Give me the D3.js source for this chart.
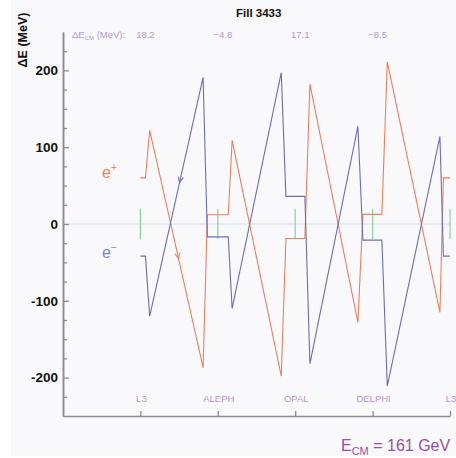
<!DOCTYPE html>
<html>
<head>
<meta charset="utf-8">
<script src="https://cdn.jsdelivr.net/npm/d3@7"></script>
<style>
  html, body { margin: 0; padding: 0; background: #ffffff; }
  svg { display: block; }
</style>
</head>
<body>
<svg id="chart" width="456" height="458"></svg>
<script>
// Beam energy deviation around the ring, Fill 3433
const title = "Fill 3433";
const ipNames = ["L3", "ALEPH", "OPAL", "DELPHI", "L3"];
const ipPos = [0, 1, 2, 3, 4];
const deltaEcm = [18.2, -4.8, 17.1, -8.5];

// azimuth in units of the IP spacing (L3 = 0 ... L3 = 4)
const azimuth = [0, 0.065, 0.12, 0.81, 0.865, 1.135, 1.185, 1.82, 1.88, 2.125, 2.19, 2.81, 2.875, 3.12, 3.19, 3.87, 3.915, 4];
const ePlus  = [60, 60, 122, -187, 12, 12, 109, -198, -18.9, -18.9, 182, -128, 12.5, 12.5, 211, -115, 60, 60];
const eMinus = [-41.8, -41.8, -120, 191, -16.8, -16.8, -110, 197, 36, 36, -182, 127, -21, -21, -211, 114, -41.8, -41.8];

const yMajor = [-200, -100, 0, 100, 200];
const yMinor = d3.range(-225, 250, 25);
const ipBand = 20; // half-height of the IP markers, MeV

const colPlus = "#f07e5e";
const colMinus = "#6c6cbd";
const colText = "#b596d3";
const font = "Liberation Sans, Arial, sans-serif";

const svg = d3.select("#chart");

// light panel
svg.append("rect").attr("x", 11).attr("y", 0).attr("width", 445).attr("height", 456)
  .attr("fill", "#f9f9fb");

const x = d3.scaleLinear().domain([-1, 4]).range([63, 450]);
const y = d3.scaleLinear().domain([-250, 250]).range([416, 32]);

// zero line
svg.append("line")
  .attr("x1", x(-1)).attr("x2", x(4))
  .attr("y1", y(0)).attr("y2", y(0))
  .attr("stroke", "#cfe4e8").attr("stroke-width", 1.2);

// IP markers
svg.append("g").selectAll("line").data(ipPos).join("line")
  .attr("x1", d => x(d)).attr("x2", d => x(d))
  .attr("y1", y(ipBand)).attr("y2", y(-ipBand))
  .attr("stroke", "#86d4a4").attr("stroke-width", 1.2);

// axes
const axisStyle = g => {
  g.selectAll(".domain").attr("stroke", "#8c8c8c").attr("stroke-width", 1.5);
  g.selectAll(".tick line").attr("stroke", "#8c8c8c").attr("stroke-width", 1.3);
};

svg.append("g").attr("transform", `translate(${x(-1)},0)`)
  .call(d3.axisLeft(y).tickValues(yMinor.filter(v => !yMajor.includes(v)))
    .tickSizeInner(-4).tickSizeOuter(0).tickFormat(""))
  .call(axisStyle);

svg.append("g").attr("transform", `translate(${x(-1)},0)`)
  .call(d3.axisLeft(y).tickValues(yMajor).tickSizeInner(-6).tickSizeOuter(0).tickPadding(5)
    .tickFormat(d => String(d)))
  .call(axisStyle)
  .call(g => g.selectAll("text")
    .attr("fill", "#111").attr("font-family", font)
    .attr("font-size", 13.5).attr("font-weight", "bold"));

svg.append("g").attr("transform", `translate(0,${y(-250)})`)
  .call(d3.axisBottom(x).tickValues(ipPos).tickSizeInner(-5).tickSizeOuter(0).tickFormat(""))
  .call(axisStyle);

// beam energy curves
const line = d3.line().x(d => x(d[0])).y(d => y(d[1]));
const plusPts = azimuth.map((a, i) => [a, ePlus[i]]);
const minusPts = azimuth.map((a, i) => [a, eMinus[i]]);

svg.append("path").datum(plusPts).attr("d", line)
  .attr("fill", "none").attr("stroke", colPlus).attr("stroke-width", 1.1);
svg.append("path").datum(minusPts).attr("d", line)
  .attr("fill", "none").attr("stroke", colMinus).attr("stroke-width", 1.1);

// direction arrows along the first arc (e+ moves right, e- moves left)
function arrowAt(pts, i0, t, dirSign, color) {
  const a = pts[i0], b = pts[i0 + 1];
  const px = x(a[0]) + (x(b[0]) - x(a[0])) * t;
  const py = y(a[1]) + (y(b[1]) - y(a[1])) * t;
  let dx = (x(b[0]) - x(a[0])) * dirSign, dy = (y(b[1]) - y(a[1])) * dirSign;
  const len = Math.hypot(dx, dy); dx /= len; dy /= len;
  const L = 6, ang = 0.45;
  const wing = s => {
    const c = Math.cos(s * ang), sn = Math.sin(s * ang);
    const vx = -dx, vy = -dy;
    return [px + L * (vx * c - vy * sn), py + L * (vx * sn + vy * c)];
  };
  const p1 = wing(1), p2 = wing(-1);
  svg.append("path")
    .attr("d", `M${p1[0]},${p1[1]}L${px},${py}L${p2[0]},${p2[1]}`)
    .attr("fill", "none").attr("stroke", color).attr("stroke-width", 1.1);
}
arrowAt(plusPts, 2, 0.54, 1, colPlus);
arrowAt(minusPts, 2, 0.56, -1, colMinus);

// beam labels
const beamLabel = (txt, sup, yy, color) => {
  const t = svg.append("text").attr("x", 102).attr("y", yy)
    .attr("fill", color).attr("font-family", font)
    .attr("font-size", 16);
  t.append("tspan").text(txt);
  t.append("tspan").text(sup).attr("font-size", 10).attr("dy", -7);
};
beamLabel("e", "+", 178, colPlus);
beamLabel("e", "\u2212", 258, "#8383c6");

// IP names
svg.append("g").selectAll("text").data(ipPos).join("text")
  .attr("x", d => x(d) + 1).attr("y", 402)
  .attr("text-anchor", "middle")
  .attr("fill", colText).attr("font-family", font)
  .attr("font-size", 9.5)
  .text((d, i) => ipNames[i]);

// delta E_CM line
const head = svg.append("text").attr("x", 72).attr("y", 38)
  .attr("fill", colText).attr("font-family", font)
  .attr("font-size", 9.5);
head.append("tspan").text("\u0394E");
head.append("tspan").text("CM").attr("font-size", 6).attr("dy", 2);
head.append("tspan").text(" (MeV):").attr("dy", -2);

svg.append("g").selectAll("text").data(deltaEcm).join("text")
  .attr("x", (d, i) => x(ipPos[i]) + 5).attr("y", 38)
  .attr("text-anchor", "middle")
  .attr("fill", colText).attr("font-family", font)
  .attr("font-size", 9.5)
  .text(d => (d < 0 ? "\u2212" : "") + Math.abs(d).toFixed(1));

// title
svg.append("text").attr("x", 236).attr("y", 17)
  .attr("fill", "#111").attr("font-family", font)
  .attr("font-size", 11.5).attr("font-weight", "bold")
  .text(title);

// y axis title
svg.append("text")
  .attr("transform", "translate(27,40) rotate(-90)")
  .attr("text-anchor", "middle")
  .attr("fill", "#111").attr("font-family", font)
  .attr("font-size", 12.5).attr("font-weight", "bold")
  .text("\u0394E (MeV)");

// beam energy note
const ecm = svg.append("text").attr("x", 341).attr("y", 451)
  .attr("fill", "#9a4ea8").attr("font-family", font)
  .attr("font-size", 16);
ecm.append("tspan").text("E");
ecm.append("tspan").text("CM").attr("font-size", 11).attr("dy", 4);
ecm.append("tspan").text(" = 161 GeV").attr("dy", -4);
</script>
</body>
</html>
